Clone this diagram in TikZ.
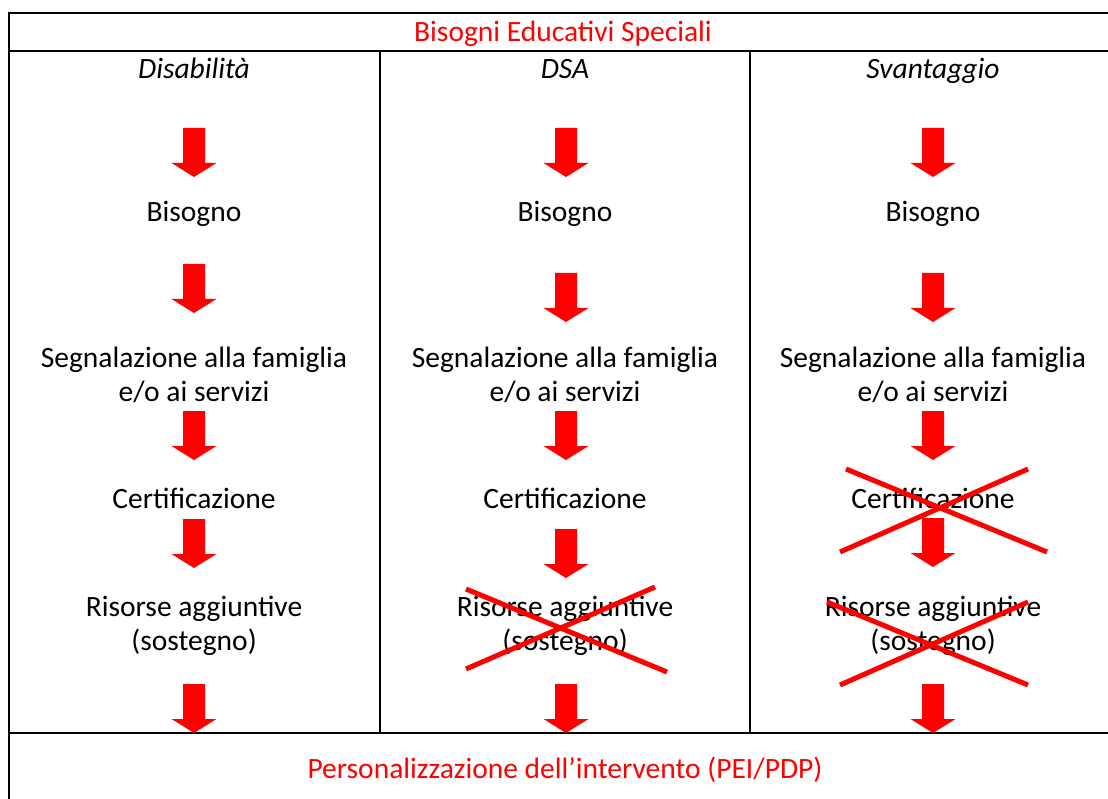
\documentclass[tikz,border=0pt]{standalone}
\usepackage{fontspec}
\setmainfont{Carlito}
\begin{document}
\begin{tikzpicture}[x=1pt, y=-1pt, line width=1.5pt,
    every node/.style={font=\fontsize{29.5}{34}\selectfont, inner sep=0pt, anchor=base, align=center}]
            \useasboundingbox (0, 0) rectangle (1108, 799);
            \clip (0, 0) rectangle (1108, 799);
            \coordinate (origin) at (9, 13);
            \draw (1120, 13) -- (origin) -- (9, 810);
            \draw (9, 51) -- (1120, 51);
            \draw (9, 733) -- (1120, 733);
            \draw (380, 51) -- (380, 733);
            \draw (750, 51) -- (750, 733);

            \node [red] (bes) at (563, 42) {Bisogni Educativi Speciali};
            \node [red] (pers) at (565, 778) {Personalizzazione dell’intervento (PEI/PDP)};

            % base of a two-line node is its last line
            \foreach \x/\name/\head in {194/dis/Disabilità, 565/dsa/DSA, 933/sva/Svantaggio} {
            \node [font=\fontsize{29.5}{34}\selectfont\itshape] (\name-head) at (\x, 79) {\head};
            \node (\name-bis) at (\x, 222) {Bisogno};
            \node (\name-seg) at (\x, 401) {Segnalazione alla famiglia\\e/o ai servizi};
            \node (\name-cert) at (\x, 508) {Certificazione};
            \node (\name-ris) at (\x, 650) {Risorse aggiuntive\\(sostegno)};
            }

            \foreach \x/\y in {194/128, 194/264, 194/411, 194/519, 194/684,
                               566/128, 566/273, 566/411, 566/529, 566/684,
                               933/128, 933/273, 933/411, 933/518, 933/684} {
            \fill [red] (\x-11, \y) -- (\x+11, \y) -- (\x+11, \y+35) -- (\x+22.5, \y+35)
                -- (\x, \y+49) -- (\x-22.5, \y+35) -- (\x-11, \y+35) -- cycle;
            }

            \draw [red, line width=5pt] (466, 589) -- (667, 672);
            \draw [red, line width=5pt] (466, 669) -- (655, 587);
            \draw [red, line width=5pt] (846, 469) -- (1047, 552);
            \draw [red, line width=5pt] (840, 552) -- (1028, 469);
            \draw [red, line width=5pt] (827, 602) -- (1028, 685);
            \draw [red, line width=5pt] (840, 685) -- (1028, 602);
        \end{tikzpicture}
\end{document}
